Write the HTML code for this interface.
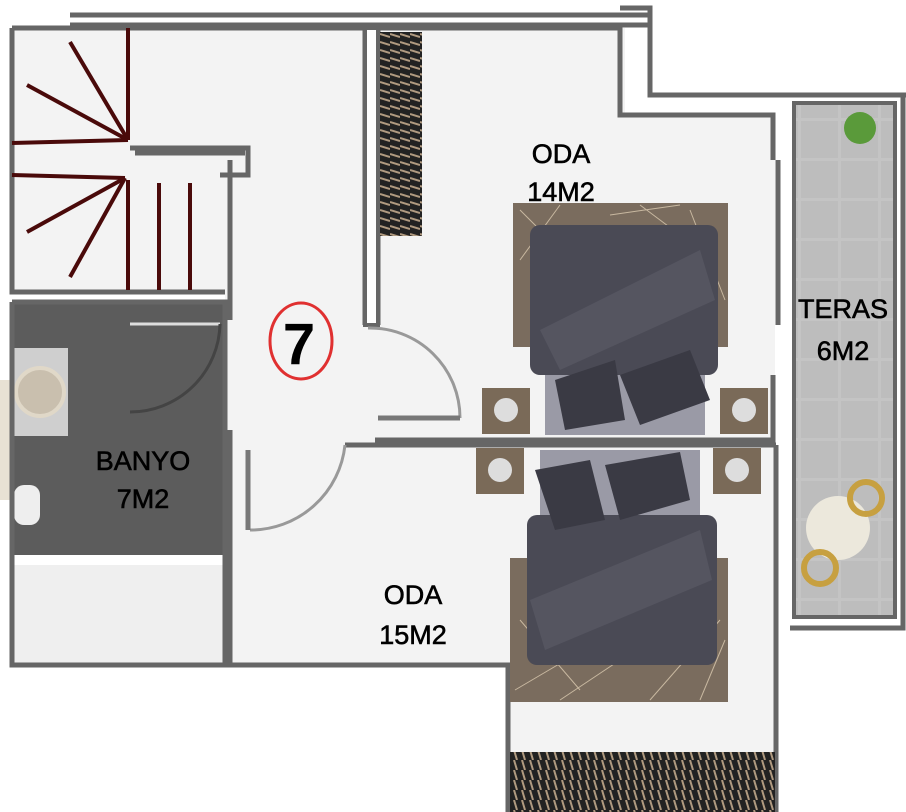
<!DOCTYPE html>
<html><head><meta charset="utf-8"><style>
body{margin:0;background:#fff;}
svg{display:block}
text{font-family:"Liberation Sans",sans-serif;fill:#000;}
</style></head><body>
<svg width="906" height="812" viewBox="0 0 906 812" xmlns="http://www.w3.org/2000/svg">
<defs>
<pattern id="wr" width="10" height="8" patternUnits="userSpaceOnUse"><rect width="10" height="8" fill="#222"/><line x1="0" y1="2" x2="10" y2="5" stroke="#b09a80" stroke-width="2"/></pattern>
<pattern id="wr2" width="8" height="10" patternUnits="userSpaceOnUse"><rect width="8" height="10" fill="#222"/><line x1="2" y1="0" x2="5" y2="10" stroke="#b09a80" stroke-width="2"/></pattern>
<pattern id="tile" width="40" height="40" patternUnits="userSpaceOnUse"><rect width="40" height="40" fill="#c4c4c4"/><rect x="1" y="1" width="37" height="37" fill="#bdbdbd"/></pattern>
</defs>
<rect x="12" y="28" width="213" height="264" fill="#f3f3f3"/>
<rect x="225" y="28" width="150" height="637" fill="#f3f3f3"/>
<rect x="375" y="28" width="250" height="415" fill="#f3f3f3"/>
<rect x="620" y="115" width="155" height="328" fill="#f3f3f3"/>
<rect x="235" y="445" width="540" height="220" fill="#f3f3f3"/>
<rect x="510" y="445" width="265" height="367" fill="#f3f3f3"/>
<rect x="12" y="302" width="213" height="253" fill="#5c5c5c"/>
<rect x="14" y="565" width="209" height="100" fill="#efefef"/>
<rect x="0" y="380" width="12" height="120" fill="#e8e2d4"/>
<rect x="14" y="348" width="54" height="88" fill="#cfcfcf"/>
<circle cx="40" cy="392" r="24" fill="#c9bfae" stroke="#e0d8c8" stroke-width="4"/>
<rect x="14" y="485" width="26" height="40" rx="10" fill="#eee"/>
<path d="M130 324 L220 324" stroke="#ddd" stroke-width="3"/>
<path d="M130 412 A90 90 0 0 0 220 324" fill="none" stroke="#444" stroke-width="3"/>
<rect x="796" y="105" width="97" height="510" fill="url(#tile)"/>
<path d="M790 95 H903 V628 H790" fill="none" stroke="#666" stroke-width="5"/>
<rect x="794" y="103" width="101" height="514" fill="none" stroke="#666" stroke-width="4"/>
<circle cx="860" cy="128" r="16" fill="#5a9a3a"/>
<circle cx="838" cy="528" r="32" fill="#ece8dc"/>
<circle cx="866" cy="498" r="16" fill="none" stroke="#c7a040" stroke-width="6"/>
<circle cx="820" cy="568" r="16" fill="none" stroke="#c7a040" stroke-width="6"/>
<g stroke="#666" stroke-width="5" fill="none">
<path d="M70 15 H650 M70 25 H650"/>
<path d="M12 28 V292 H225 M12 302 V665 H225 V302 H12"/>
<path d="M12 28 H365 V325 M378 325 V28 H620 V115 H773 V160 M773 375 V440 H375"/>
<path d="M620 8 H650 V95 H906"/>
<path d="M130 148 H248 V175 H220 M135 153 H245"/>
<path d="M230 160 V320 M230 430 V665 H508 V812 M776 445 V812 M345 445 H776"/>
<path d="M778 160 V325"/>
</g>
<rect x="365" y="28" width="13" height="297" fill="#fff" stroke="#666" stroke-width="4"/>
<g stroke="#4a0a0a" stroke-width="4">
<line x1="128" y1="140" x2="128" y2="28"/><line x1="128" y1="140" x2="70" y2="42"/><line x1="128" y1="140" x2="27" y2="85"/><line x1="128" y1="140" x2="12" y2="143"/>
<line x1="125" y1="178" x2="12" y2="175"/><line x1="125" y1="178" x2="27" y2="232"/><line x1="125" y1="178" x2="70" y2="277"/><line x1="128" y1="180" x2="128" y2="290"/><line x1="159" y1="183" x2="159" y2="290"/><line x1="190" y1="183" x2="190" y2="290"/>
</g>
<g fill="none" stroke="#999" stroke-width="3">
<path d="M368 328 A90 90 0 0 1 460 418"/><path d="M378 418 H460" stroke="#777" stroke-width="5"/>
<path d="M345 445 A95 95 0 0 1 250 530"/><path d="M248 450 V530" stroke="#777" stroke-width="5"/>
</g>
<rect x="380" y="32" width="42" height="204" fill="url(#wr)"/>
<rect x="510" y="752" width="265" height="60" fill="url(#wr2)"/>
<rect x="513" y="203" width="215" height="144" fill="#7a6c5e"/>
<g stroke="#c8b8a0" stroke-width="1" fill="none"><path d="M520 210 L600 290 M560 205 L520 260 M640 205 L700 250 M690 210 L725 300 M610 215 L680 205"/></g>
<rect x="545" y="335" width="160" height="100" fill="#9a9aa6"/>
<rect x="530" y="225" width="188" height="150" rx="10" fill="#4a4a55"/>
<path d="M540 330 L700 250 L715 300 L560 370Z" fill="#555560"/>
<path d="M555 380 L615 360 L625 420 L565 430Z M620 375 L690 350 L710 400 L640 425Z" fill="#3a3a44"/>
<rect x="482" y="388" width="48" height="46" fill="#7a6a58"/><circle cx="506" cy="410" r="12" fill="#ddd"/>
<rect x="720" y="388" width="48" height="46" fill="#7a6a58"/><circle cx="744" cy="410" r="12" fill="#ddd"/>
<rect x="510" y="558" width="218" height="144" fill="#7a6c5e"/>
<g stroke="#c8b8a0" stroke-width="1" fill="none"><path d="M515 690 L600 640 M560 700 L620 660 M650 700 L720 620 M700 700 L725 640 M520 620 L580 690"/></g>
<rect x="540" y="450" width="160" height="110" fill="#9a9aa6"/>
<rect x="527" y="515" width="190" height="150" rx="10" fill="#4a4a55"/>
<path d="M530 600 L700 530 L712 580 L545 650Z" fill="#555560"/>
<path d="M535 470 L590 460 L605 520 L555 530Z M605 465 L680 452 L690 500 L620 520Z" fill="#3a3a44"/>
<rect x="476" y="448" width="48" height="46" fill="#7a6a58"/><circle cx="500" cy="470" r="12" fill="#ddd"/>
<rect x="713" y="448" width="48" height="46" fill="#7a6a58"/><circle cx="737" cy="470" r="12" fill="#ddd"/>
<ellipse cx="301" cy="341" rx="31" ry="38" fill="none" stroke="#e03030" stroke-width="3"/>
<text x="299" y="364" font-size="58" font-weight="bold" text-anchor="middle">7</text>
<g font-size="27" text-anchor="middle" stroke="#000" stroke-width="0.6">
<text x="561" y="163">ODA</text><text x="561" y="201">14M2</text>
<text x="843" y="318">TERAS</text><text x="843" y="360">6M2</text>
<text x="143" y="470">BANYO</text><text x="143" y="508">7M2</text>
<text x="413" y="604">ODA</text><text x="413" y="644">15M2</text>
</g>
</svg>
</body></html>
